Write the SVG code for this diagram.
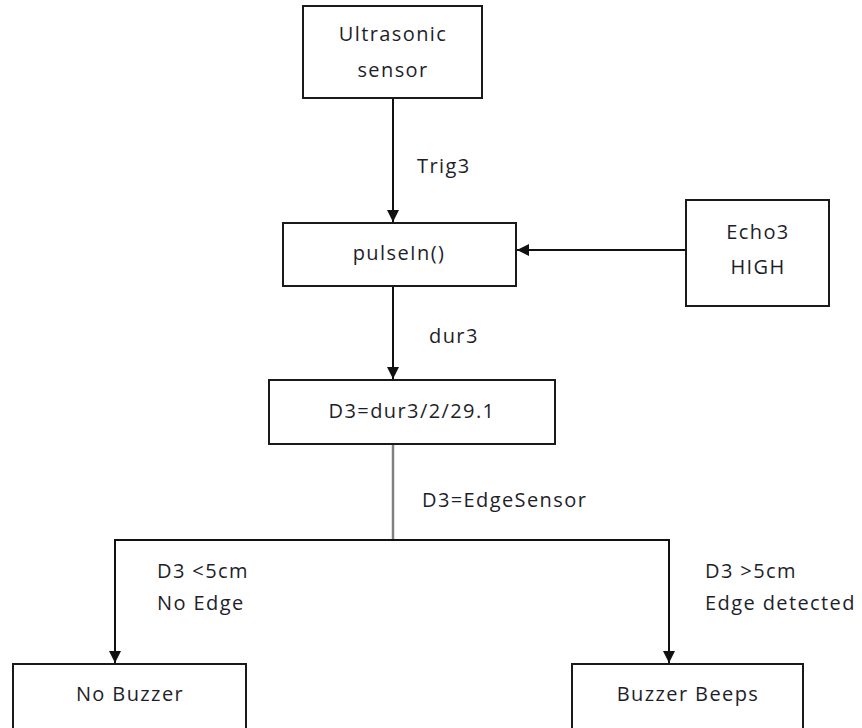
<svg xmlns="http://www.w3.org/2000/svg" width="862" height="728" viewBox="0 0 862 728">
  <style>
    .box { fill: #ffffff; stroke: #1a1a1a; stroke-width: 2; }
    .lbl { font-family: "Open Sans", "Liberation Sans", sans-serif; font-size: 20px; letter-spacing: 1.4px; fill: #1e1e2a; }
    .mid { text-anchor: middle; }
    .wire { fill: none; stroke: #111111; stroke-width: 2; }
    .grey { fill: none; stroke: #808080; stroke-width: 2.5; }
  </style>
  <defs>
    <marker id="arrow" viewBox="0 0 10 10" refX="10" refY="5" markerWidth="6" markerHeight="6" markerUnits="strokeWidth" orient="auto">
      <path d="M0,0 L10,5 L0,10 Z" fill="#111111"/>
    </marker>
  </defs>
  <rect width="862" height="728" fill="#ffffff"/>

  <g id="connectors">
    <line class="wire" x1="393" y1="98" x2="393" y2="222" marker-end="url(#arrow)"/>
    <line class="wire" x1="686" y1="250" x2="517" y2="250" marker-end="url(#arrow)"/>
    <line class="wire" x1="393" y1="286" x2="393" y2="379" marker-end="url(#arrow)"/>
    <line class="grey" x1="393" y1="444" x2="393" y2="541"/>
    <polyline class="wire" points="115,540 669,540 669,663" marker-end="url(#arrow)"/>
    <line class="wire" x1="115" y1="539" x2="115" y2="663" marker-end="url(#arrow)"/>
    <text class="lbl" x="417" y="173">Trig3</text>
    <text class="lbl" x="429" y="343">dur3</text>
    <text class="lbl" x="422" y="507">D3=EdgeSensor</text>
    <text class="lbl" x="157" y="578">D3 &lt;5cm</text>
    <text class="lbl" x="157" y="610">No Edge</text>
    <text class="lbl" x="705" y="578">D3 &gt;5cm</text>
    <text class="lbl" x="705" y="610">Edge detected</text>
  </g>

  <g id="ultrasonic">
    <rect class="box" x="303" y="6" width="179" height="92"/>
    <text class="lbl mid" x="393" y="41">Ultrasonic</text>
    <text class="lbl mid" x="393" y="77">sensor</text>
  </g>

  <g id="pulsein">
    <rect class="box" x="283" y="223" width="233" height="63"/>
    <text class="lbl mid" x="399" y="260">pulseIn()</text>
  </g>

  <g id="echo">
    <rect class="box" x="686" y="200" width="143" height="106"/>
    <text class="lbl mid" x="758" y="239">Echo3</text>
    <text class="lbl mid" x="758" y="274">HIGH</text>
  </g>

  <g id="distance">
    <rect class="box" x="269" y="380" width="286" height="64"/>
    <text class="lbl mid" x="412" y="418">D3=dur3/2/29.1</text>
  </g>

  <g id="no-buzzer">
    <rect class="box" x="13" y="664" width="233" height="80"/>
    <text class="lbl mid" x="130" y="701">No Buzzer</text>
  </g>

  <g id="buzzer-beeps">
    <rect class="box" x="572" y="664" width="231" height="80"/>
    <text class="lbl mid" x="688" y="701">Buzzer Beeps</text>
  </g>
</svg>
